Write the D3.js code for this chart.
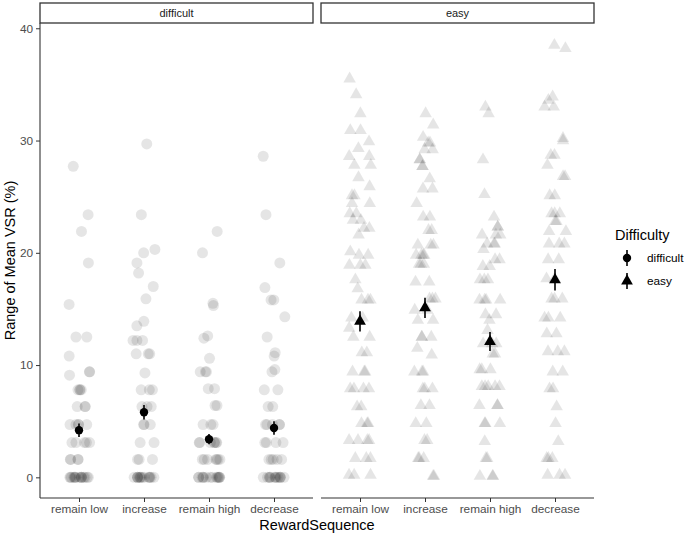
<!DOCTYPE html>
<html>
<head>
<meta charset="utf-8">
<script src="https://cdn.jsdelivr.net/npm/d3@7"></script>
<style>
  body { margin: 0; background: #fff; }
  text { font-family: "Liberation Sans", Arial, sans-serif; }
</style>
</head>
<body>
<svg id="chart" width="685" height="536"></svg>
<script>
// categories and panels
const sequences = ["remain low", "increase", "remain high", "decrease"];
const panels = ["difficult", "easy"];
const yTicks = [0, 10, 20, 30, 40];

// raw per-subject values (%)
const difficultRemainLow = [27.7, 23.4, 21.9, 19.1, 15.4, 12.5, 12.5, 10.8, 9.1, 9.4, 9.4,
  7.8, 7.8, 7.8, 7.8, 6.3, 6.3, 6.3, 4.7, 4.7, 4.7, 4.7, 4.7, 3.1, 3.1, 3.1, 3.1, 3.1,
  1.6, 1.6, 1.6, 1.6, 0, 0, 0, 0, 0, 0, 0, 0, 0, 0, 0, 0, 0, 0, 0];
const difficultIncrease = [29.7, 23.4, 20.3, 20.0, 19.1, 18.2, 17.0, 15.9, 13.9, 13.5,
  12.2, 12.2, 12.2, 11.0, 11.0, 11.0, 9.3, 7.8, 7.8, 7.8, 6.3, 6.3, 6.3, 4.7, 4.7, 4.7,
  3.1, 3.1, 1.6, 1.6, 1.6, 0, 0, 0, 0, 0, 0, 0, 0, 0, 0, 0, 0, 0, 0];
const difficultRemainHigh = [21.9, 20.0, 15.5, 15.3, 12.6, 12.4, 10.6, 9.4, 9.4, 9.4,
  7.9, 7.9, 6.4, 6.4, 4.7, 4.7, 4.7, 3.1, 3.1, 3.1, 3.1, 3.1, 3.1, 3.1,
  1.6, 1.6, 1.6, 1.6, 1.6, 1.6, 1.6, 0, 0, 0, 0, 0, 0, 0, 0, 0, 0, 0, 0, 0, 0];
const difficultDecrease = [28.6, 23.4, 19.1, 16.9, 15.8, 15.8, 14.3, 12.5, 11.1, 10.8,
  9.4, 9.6, 7.8, 7.8, 6.3, 6.3, 4.7, 4.7, 4.7, 4.7, 4.7, 3.1, 3.1, 3.1, 3.1,
  1.6, 1.6, 1.6, 1.6, 1.6, 0, 0, 0, 0, 0, 0, 0, 0, 0, 0, 0, 0, 0];

const easyRemainLow = [35.5, 34.1, 32.4, 30.9, 30.9, 29.9, 29.3, 28.6, 28.6, 27.8, 27.8,
  26.7, 25.9, 25.1, 25.1, 24.4, 24.4, 23.5, 23.5, 22.9, 22.9, 22.2, 22.2, 21.6, 20.1,
  19.8, 19.8, 18.9, 18.9, 18.9, 17.6, 16.8, 15.8, 15.8, 15.8, 14.2, 14.2, 13.3, 12.5,
  12.5, 11.1, 11.1, 9.4, 9.4, 9.4, 7.9, 7.9, 7.9, 7.9, 6.3, 6.3, 4.8, 4.8, 4.8,
  3.3, 3.3, 3.3, 3.3, 1.7, 1.7, 1.7, 0.2, 0.2, 0.2];
const easyIncrease = [32.4, 31.4, 30.3, 29.8, 29.8, 29.2, 29.2, 28.3, 28.3, 27.7, 27.7,
  26.6, 25.7, 25.7, 24.4, 23.2, 23.2, 22.0, 22.0, 20.7, 20.7, 20.7, 19.8, 19.8, 19.8,
  19.8, 19.0, 19.0, 19.0, 17.4, 17.4, 15.9, 15.9, 15.9, 14.9, 14.9, 14.0, 14.0, 12.5,
  12.5, 12.5, 11.5, 10.9, 9.4, 9.4, 9.4, 7.9, 7.9, 7.9, 6.4, 6.4, 4.8, 4.8, 3.3, 3.3,
  1.7, 1.7, 1.7, 0.1, 0.1];
const easyRemainHigh = [33.0, 32.4, 28.3, 25.2, 23.2, 22.3, 22.3, 21.6, 21.6, 21.6,
  20.8, 20.8, 20.8, 20.3, 19.4, 19.4, 18.8, 18.8, 17.6, 17.6, 17.6, 15.8, 15.8, 15.8,
  15.8, 14.5, 14.5, 14.0, 13.1, 11.9, 11.9, 11.9, 11.0, 11.0, 9.6, 9.6, 9.6, 8.1, 8.1,
  8.1, 8.1, 8.1, 6.4, 6.4, 6.4, 4.8, 4.8, 4.8, 3.2, 1.7, 1.7, 0.1, 0.1, 0.1];
const easyDecrease = [38.5, 38.2, 33.9, 33.6, 33.0, 33.0, 30.2, 30.0, 28.7, 28.7, 27.8,
  26.8, 26.8, 25.1, 25.1, 23.5, 23.5, 23.5, 22.8, 22.8, 21.9, 21.9, 20.8, 20.8, 20.8,
  19.4, 19.4, 17.7, 17.7, 15.9, 15.9, 15.9, 14.2, 14.2, 14.2, 12.8, 12.8, 11.2, 11.2,
  11.2, 9.4, 9.4, 7.9, 7.9, 6.3, 4.8, 3.2, 1.7, 1.7, 1.7, 0.2, 0.2, 0.2];

// group means with standard errors
const difficultMeans = [4.2, 5.8, 3.4, 4.4];
const difficultErr = [0.6, 0.65, 0.45, 0.6];
const easyMeans = [13.9, 15.1, 12.1, 17.6];
const easyErr = [0.9, 0.9, 0.85, 0.95];

const rawData = {
  difficult: [difficultRemainLow, difficultIncrease, difficultRemainHigh, difficultDecrease],
  easy: [easyRemainLow, easyIncrease, easyRemainHigh, easyDecrease]
};
const meanData = {
  difficult: difficultMeans.map((m, i) => ({ seq: sequences[i], mean: m, err: difficultErr[i] })),
  easy: easyMeans.map((m, i) => ({ seq: sequences[i], mean: m, err: easyErr[i] }))
};

const svg = d3.select("#chart");
const plotTop = 23, plotBottom = 498;
const panelW = 273;
const panelX = { difficult: 40, easy: 321 };

const y = d3.scaleLinear().domain([-1.84, 40.47]).range([plotBottom, plotTop]);

// seeded jitter so the picture is the same every run
const rng = d3.randomLcg(7);

// y axis (first panel only)
const yAxis = svg.append("g").attr("transform", `translate(${panelX.difficult},0)`)
  .call(d3.axisLeft(y).tickValues(yTicks).tickSize(4).tickSizeOuter(0).tickPadding(3));
yAxis.select(".domain").remove();
yAxis.selectAll(".tick line").attr("stroke", "#333");
yAxis.selectAll("text").attr("fill", "#4d4d4d").style("font-size", "11.8px");
svg.append("line")
  .attr("x1", panelX.difficult).attr("x2", panelX.difficult)
  .attr("y1", plotTop).attr("y2", plotBottom)
  .attr("stroke", "#333").attr("stroke-width", 1.1);

panels.forEach((p, pi) => {
  const x0 = panelX[p];
  const x = d3.scalePoint().domain(sequences).range([x0, x0 + panelW]).padding(0.6);
  const g = svg.append("g");

  // strip
  g.append("rect")
    .attr("x", x0).attr("y", 3).attr("width", panelW).attr("height", plotTop - 3)
    .attr("fill", "#fff").attr("stroke", "#333").attr("stroke-width", 1.3);
  g.append("text")
    .attr("x", x0 + panelW / 2).attr("y", 17)
    .attr("text-anchor", "middle")
    .style("font-size", "11px").attr("fill", "#1a1a1a")
    .text(p);

  // x axis
  const xAxis = g.append("g").attr("transform", `translate(0,${plotBottom})`)
    .call(d3.axisBottom(x).tickSize(4).tickSizeOuter(0).tickPadding(3));
  xAxis.select(".domain").remove();
  xAxis.selectAll(".tick line").attr("stroke", "#333");
  xAxis.selectAll("text").attr("fill", "#4d4d4d").style("font-size", "11.8px");
  g.append("line")
    .attr("x1", x0).attr("x2", x0 + panelW)
    .attr("y1", plotBottom).attr("y2", plotBottom)
    .attr("stroke", "#333").attr("stroke-width", 1.1);

  // raw points
  const pts = [];
  rawData[p].forEach((vals, i) => {
    vals.forEach(v => pts.push({ seq: sequences[i], v: v, jit: (rng() - 0.5) * 22 }));
  });
  const shape = p === "difficult" ? d3.symbolCircle : d3.symbolTriangle;
  const rawSize = p === "difficult" ? 95 : 68;
  g.append("g").selectAll("path")
    .data(pts)
    .enter().append("path")
    .attr("transform", d => `translate(${x(d.seq) + d.jit},${y(d.v)})`)
    .attr("d", d3.symbol().type(shape).size(rawSize))
    .attr("fill", "#000")
    .attr("fill-opacity", 0.1);

  // means with error bars
  const m = g.append("g").selectAll("g")
    .data(meanData[p])
    .enter().append("g");
  m.append("line")
    .attr("x1", d => x(d.seq)).attr("x2", d => x(d.seq))
    .attr("y1", d => y(d.mean - d.err)).attr("y2", d => y(d.mean + d.err))
    .attr("stroke", "#000").attr("stroke-width", 1.6);
  m.append("path")
    .attr("transform", d => `translate(${x(d.seq)},${y(d.mean)})`)
    .attr("d", d3.symbol().type(shape).size(p === "difficult" ? 55 : 60))
    .attr("fill", "#000");
});

// axis titles
svg.append("text")
  .attr("transform", `translate(15,${(plotTop + plotBottom) / 2}) rotate(-90)`)
  .attr("text-anchor", "middle")
  .style("font-size", "14.5px").attr("fill", "#000")
  .text("Range of Mean VSR (%)");
svg.append("text")
  .attr("x", (panelX.difficult + panelX.easy + panelW) / 2).attr("y", 530)
  .attr("text-anchor", "middle")
  .style("font-size", "14.5px").attr("fill", "#000")
  .text("RewardSequence");

// legend
const legend = svg.append("g").attr("transform", "translate(615,0)");
legend.append("text")
  .attr("x", 0).attr("y", 240)
  .style("font-size", "14.5px").attr("fill", "#000")
  .text("Difficulty");
panels.forEach((p, i) => {
  const cy = 258 + i * 23;
  legend.append("line")
    .attr("x1", 12).attr("x2", 12).attr("y1", cy - 8).attr("y2", cy + 8)
    .attr("stroke", "#000").attr("stroke-width", 1.6);
  legend.append("path")
    .attr("transform", `translate(12,${cy})`)
    .attr("d", d3.symbol().type(p === "difficult" ? d3.symbolCircle : d3.symbolTriangle)
      .size(p === "difficult" ? 55 : 60))
    .attr("fill", "#000");
  legend.append("text")
    .attr("x", 32).attr("y", cy + 4)
    .style("font-size", "11.8px").attr("fill", "#000")
    .text(p);
});
</script>
</body>
</html>
